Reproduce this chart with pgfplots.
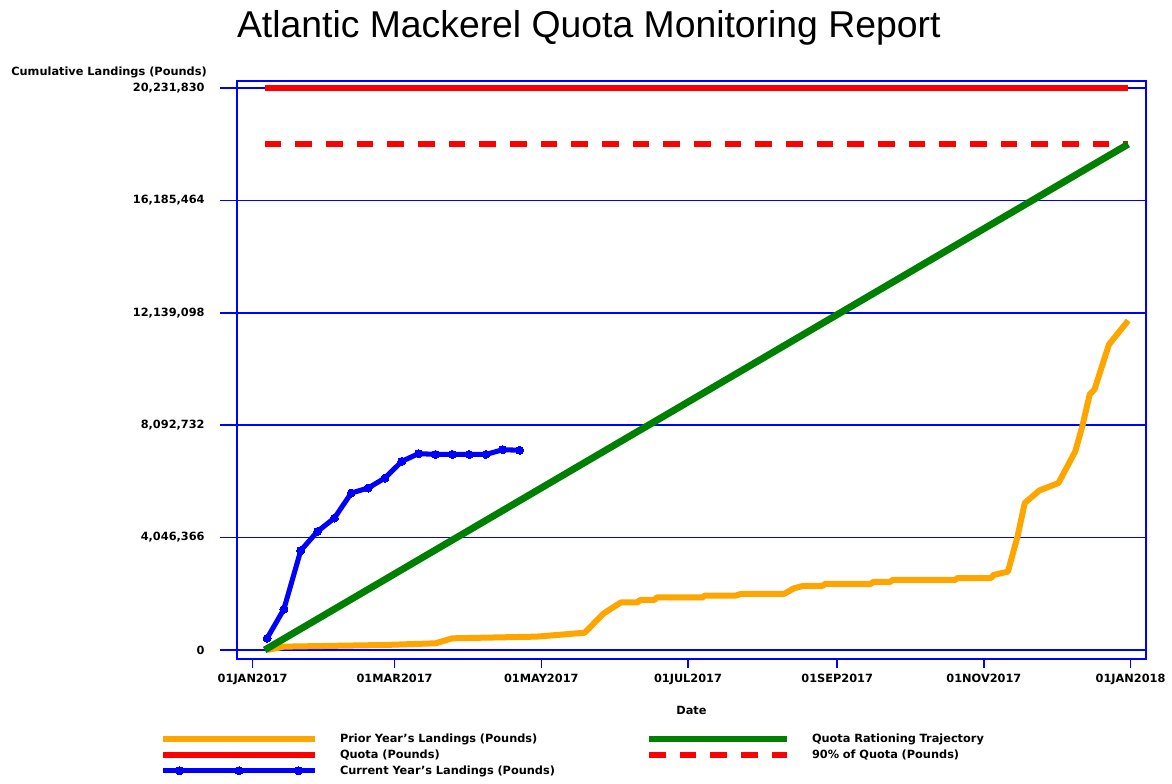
\documentclass[border=0pt]{standalone}
\usepackage{pgfplots}
\pgfplotsset{compat=1.18}
\usepackage{fontspec}
\setmainfont{DejaVu Sans}
\newfontfamily\arialf{Liberation Sans}
\newcommand\tfont{\bfseries\fontsize{8.5}{10}\selectfont}
\definecolor{qblue}{RGB}{0,0,255}
\definecolor{qred}{RGB}{255,0,0}
\definecolor{qgreen}{RGB}{0,128,0}
\definecolor{qorange}{RGB}{255,165,0}
\pgfplotsset{
  legA/.style={legend image code/.code={\draw[##1] (0pt,0pt) -- (114pt,0pt);}},
  legB/.style={legend image code/.code={\draw[##1] (0pt,0pt) -- (103.5pt,0pt);}},
  legC/.style={legend image code/.code={\draw[##1, mark=none] (0pt,0pt) -- (114pt,0pt);
     \draw[##1, draw=none] plot coordinates {(12.5pt,0pt) (57pt,0pt) (101.5pt,0pt)};}},
}

\pgfplotstableread{
day value
6 0
13 120000
55 180000
76 240000
83 420000
118 480000
138 620000
146 1320000
153 1710000
160 1710000
161 1800000
167 1800000
168 1890000
187 1890000
188 1960000
201 1960000
203 2020000
221 2020000
225 2220000
229 2310000
237 2310000
238 2380000
257 2380000
258 2450000
265 2450000
266 2520000
292 2520000
293 2590000
307 2590000
308 2700000
314 2820000
318 4090000
321 5290000
327 5740000
335 6010000
342 7150000
345 8080000
348 9200000
350 9380000
356 11000000
364 11860000
}\prioryear

\pgfplotstableread{
day value
6 420000
13 1470000
20 3580000
27 4270000
34 4750000
41 5650000
48 5830000
55 6190000
62 6790000
69 7070000
76 7040000
83 7040000
90 7040000
97 7040000
104 7210000
111 7190000
}\curyear

\begin{document}
\begin{tikzpicture}
\begin{axis}[
  scale only axis, width=681.75pt, height=433.5pt,
  xmin=-6.5, xmax=371.4, ymin=-325000, ymax=20484000,
  axis line style={draw=qblue, line width=1.1pt},
  xtick={0,59,120,181,243,304,365},
  xticklabels={01JAN2017,01MAR2017,01MAY2017,01JUL2017,01SEP2017,01NOV2017,01JAN2018},
  ytick={0,4046366,8092732,12139098,16185464,20231830},
  yticklabels={0,{4,046,366},{8,092,732},{12,139,098},{16,185,464},{20,231,830}},
  scaled y ticks=false,
  ymajorgrids=true,
  grid style={draw=qblue, line width=1.1pt},
  major grid style={draw=qblue, line width=1.1pt},
  tick align=outside, xtick pos=bottom, ytick pos=left,
  major tick length=12.75pt,
  xtick style={draw=qblue, line width=1.1pt, /pgfplots/major tick length=6.75pt},
  ytick style={draw=qblue, line width=1.1pt},
  tick label style={font=\tfont, text=black},
  yticklabel style={xshift=-8pt},
  xticklabel style={yshift=5.25pt},
  xlabel={Date}, xlabel style={font=\tfont, at={(axis description cs:0.5,-0.089)}, anchor=center},
  legend columns=2,
  legend style={draw=none, fill=none, inner sep=0pt, outer sep=0pt,
    at={(axis description cs:-0.0847,-0.1276)}, anchor=north west,
    nodes={inner sep=0pt, font=\tfont, text width=175pt, text height=7pt, text depth=2pt, align=left},
    row sep=3pt,
    /tikz/every odd column/.append style={column sep=16.5pt},
    /tikz/every even column/.append style={column sep=54.5pt}},
  legend cell align=left,
]
\addplot[qred, line width=4.5pt, forget plot] coordinates {(5,20231830) (364,20231830)};
\addplot[qred, line width=4.5pt, dash pattern=on 12.5pt off 10.5pt, forget plot] coordinates {(5,18208647) (364,18208647)};
\addplot[qorange, line width=4.5pt, line join=round, forget plot] table[x=day,y=value] {\prioryear};
\addplot[qgreen, line width=5.2pt, forget plot] coordinates {(5,0) (364,18208647)};
\addplot[qblue, line width=3.8pt, line join=round, mark=*, mark size=3pt, mark options={fill=qblue, draw=qblue, line width=0pt}, forget plot] table[x=day,y=value] {\curyear};

\addlegendimage{qorange, line width=4.5pt, legA}
\addlegendentry{Prior Year's Landings (Pounds)}
\addlegendimage{qgreen, line width=4.5pt, legB}
\addlegendentry{Quota Rationing Trajectory}
\addlegendimage{qred, line width=4.5pt, legA}
\addlegendentry{Quota (Pounds)}
\addlegendimage{qred, line width=4.5pt, dash pattern=on 12.5pt off 10.5pt, legB}
\addlegendentry{90\% of Quota (Pounds)}
\addlegendimage{qblue, line width=4pt, mark=*, mark size=3pt, mark options={fill=qblue, draw=qblue, line width=0pt}, legC}
\addlegendentry{Current Year's Landings (Pounds)}

\coordinate (O) at (rel axis cs:0,0);
\coordinate (T) at (rel axis cs:0.387,1.0755);
\coordinate (YL) at (rel axis cs:-0.033,1.0087);
\end{axis}
\node[font=\arialf\fontsize{28}{32}\selectfont, anchor=base, inner sep=0pt] at (T) {Atlantic Mackerel Quota Monitoring Report};
\node[font=\tfont, anchor=base east, inner sep=0pt] at (YL) {Cumulative Landings (Pounds)};
\pgfresetboundingbox
\path (O) ++(-177.75pt,-93pt) rectangle ++(879pt,587.25pt);
\end{tikzpicture}
\end{document}
